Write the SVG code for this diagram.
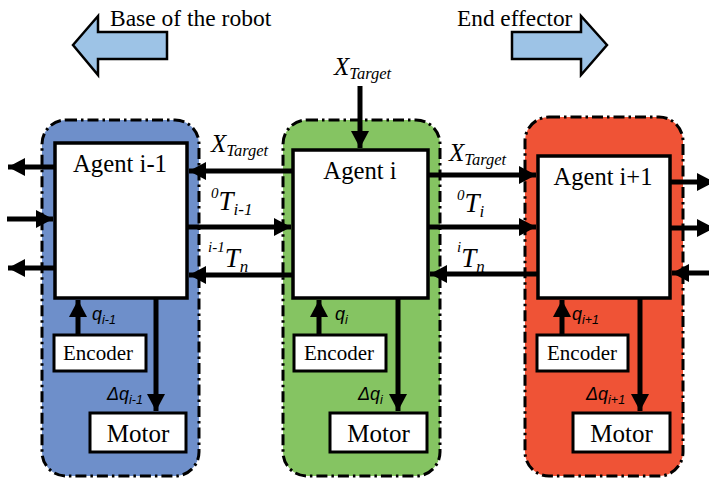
<svg xmlns="http://www.w3.org/2000/svg" width="709" height="482" viewBox="0 0 709 482">
<style>
.cont{stroke:#000;stroke-width:3;stroke-dasharray:11 4 2.5 4;}
.box{fill:#fff;stroke:#000;stroke-width:3.5;}
.sbox{fill:#fff;stroke:#000;stroke-width:3;}
.ser{font-family:"Liberation Serif","Times New Roman",serif;fill:#000;}
.it{font-style:italic;}
.sans{font-family:"Liberation Sans",Arial,sans-serif;font-style:italic;fill:#000;}
.wire{stroke:#000;stroke-width:5;fill:none;marker-end:url(#ah);}
.big{fill:#9DC3E6;stroke:#000;stroke-width:2.5;stroke-linejoin:miter;}
</style>
<defs>
<marker id="ah" markerUnits="userSpaceOnUse" markerWidth="18" markerHeight="18" refX="17" refY="9" orient="auto">
<path d="M0,0 L17,9 L0,18 z" fill="#000"/>
</marker>
</defs>
<rect width="709" height="482" fill="#fff"/>

<g id="dir-base">
<path class="big" d="M73,45 L98,16 L98,32 L167,32 L167,59 L98,59 L98,75 Z"/>
<text class="ser" x="110" y="26" font-size="23.5">Base of the robot</text>
</g>
<g id="dir-end">
<path class="big" d="M607,45 L581,16 L581,32 L512,32 L512,59 L581,59 L581,75 Z"/>
<text class="ser" x="457" y="26" font-size="23.3">End effector</text>
</g>

<g id="unit-im1">
<rect class="cont" x="42" y="120" width="157" height="356" rx="24" fill="#6E8FCA"/>
</g>
<g id="unit-i">
<rect class="cont" x="283" y="120" width="157" height="356" rx="24" fill="#85C462"/>
</g>
<g id="unit-ip1">
<rect class="cont" x="525" y="117" width="158" height="359" rx="24" fill="#EF5336"/>
</g>

<g id="agent-im1">
<rect class="box" x="55" y="143" width="132" height="155"/>
<text class="ser" x="120" y="172" font-size="24.7" text-anchor="middle">Agent i-1</text>
</g>
<g id="agent-i">
<rect class="box" x="293" y="150" width="135" height="148"/>
<text class="ser" x="360" y="179" font-size="24.7" text-anchor="middle">Agent i</text>
</g>
<g id="agent-ip1">
<rect class="box" x="538" y="156" width="132" height="142"/>
<text class="ser" x="603" y="185" font-size="24.5" text-anchor="middle">Agent i+1</text>
</g>

<g id="encoder-im1">
<rect class="sbox" x="54" y="335" width="92" height="36"/>
<text class="ser" x="98" y="360" font-size="21" text-anchor="middle">Encoder</text>
</g>
<g id="encoder-i">
<rect class="sbox" x="294" y="335" width="92" height="36"/>
<text class="ser" x="339" y="360" font-size="21" text-anchor="middle">Encoder</text>
</g>
<g id="encoder-ip1">
<rect class="sbox" x="537" y="335" width="91" height="36"/>
<text class="ser" x="582" y="360" font-size="21" text-anchor="middle">Encoder</text>
</g>

<g id="motor-im1">
<rect class="sbox" x="90" y="413" width="96" height="39"/>
<text class="ser" x="138" y="442" font-size="25" text-anchor="middle">Motor</text>
</g>
<g id="motor-i">
<rect class="sbox" x="330" y="413" width="97" height="39"/>
<text class="ser" x="378.5" y="442" font-size="25" text-anchor="middle">Motor</text>
</g>
<g id="motor-ip1">
<rect class="sbox" x="573" y="413" width="97" height="39"/>
<text class="ser" x="621.5" y="442" font-size="25" text-anchor="middle">Motor</text>
</g>

<g id="connectors">
<line class="wire" x1="360" y1="86" x2="360" y2="148"/>
<line class="wire" x1="293" y1="171" x2="189" y2="171"/>
<line class="wire" x1="187" y1="227" x2="291" y2="227"/>
<line class="wire" x1="293" y1="275" x2="189" y2="275"/>
<line class="wire" x1="428" y1="175" x2="536" y2="175"/>
<line class="wire" x1="428" y1="227" x2="536" y2="227"/>
<line class="wire" x1="538" y1="274" x2="430" y2="274"/>
<line class="wire" x1="55" y1="167" x2="8" y2="167"/>
<line class="wire" x1="7" y1="219" x2="53" y2="219"/>
<line class="wire" x1="55" y1="268" x2="8" y2="268"/>
<line class="wire" x1="670" y1="182" x2="714" y2="182"/>
<line class="wire" x1="670" y1="228" x2="714" y2="228"/>
<line class="wire" x1="712" y1="273" x2="672" y2="273"/>
<line class="wire" x1="78" y1="335" x2="78" y2="300"/>
<line class="wire" x1="319" y1="335" x2="319" y2="300"/>
<line class="wire" x1="562" y1="335" x2="562" y2="300"/>
<line class="wire" x1="156" y1="298" x2="156" y2="411"/>
<line class="wire" x1="398" y1="298" x2="398" y2="411"/>
<line class="wire" x1="640" y1="298" x2="640" y2="411"/>
</g>

<g id="labels">
<text class="ser it" x="334" y="75" font-size="25">X<tspan font-size="16.5" dy="4">Target</tspan></text>
<text class="ser it" x="211" y="152" font-size="25">X<tspan font-size="16.5" dy="4">Target</tspan></text>
<text class="ser it" x="449" y="161" font-size="25">X<tspan font-size="16.5" dy="4">Target</tspan></text>
<text class="ser it" x="211" y="210" font-size="27"><tspan font-size="15" dy="-12">0</tspan><tspan dy="12">T</tspan><tspan font-size="17" dy="5">i-1</tspan></text>
<text class="ser it" x="457" y="212" font-size="27"><tspan font-size="15" dy="-12">0</tspan><tspan dy="12">T</tspan><tspan font-size="17" dy="5">i</tspan></text>
<text class="ser it" x="208" y="267" font-size="27"><tspan font-size="15" dy="-15">i-1</tspan><tspan dy="15">T</tspan><tspan font-size="17" dy="5">n</tspan></text>
<text class="ser it" x="457" y="267" font-size="27"><tspan font-size="15" dy="-15">i</tspan><tspan dy="15">T</tspan><tspan font-size="17" dy="5">n</tspan></text>
<text class="sans" x="92" y="320" font-size="18">q<tspan font-size="12.5" dy="4">i-1</tspan></text>
<text class="sans" x="335" y="320" font-size="18">q<tspan font-size="12.5" dy="4">i</tspan></text>
<text class="sans" x="572" y="320" font-size="18">q<tspan font-size="12.5" dy="4">i+1</tspan></text>
<text class="sans" x="107" y="400" font-size="18">Δq<tspan font-size="12.5" dy="4">i-1</tspan></text>
<text class="sans" x="358" y="400" font-size="18">Δq<tspan font-size="12.5" dy="4">i</tspan></text>
<text class="sans" x="586" y="400" font-size="18">Δq<tspan font-size="12.5" dy="4">i+1</tspan></text>
</g>
</svg>
